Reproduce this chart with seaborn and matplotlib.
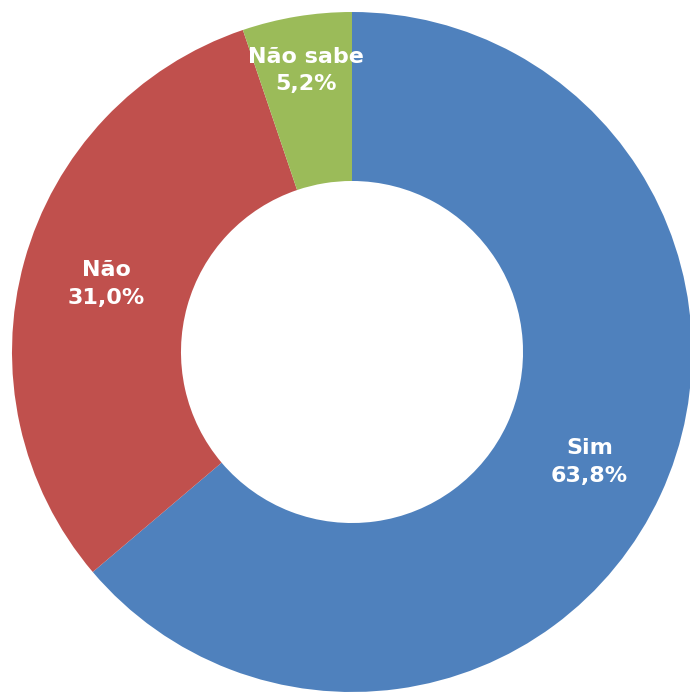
import matplotlib
matplotlib.use("Agg")
import matplotlib.pyplot as plt
import numpy as np
import seaborn as sns

# answer categories and their shares (%)
categories = ["Sim", "Não", "Não sabe"]
shares = [63.8, 31.0, 5.2]
colors = ["#4F81BD", "#C0504D", "#9BBB59"]

# radial position of each label (fraction of outer radius)
label_radius = [0.77, 0.75, 0.84]

sns.set_theme(style="white")
plt.rcParams["font.family"] = ["DejaVu Sans"]

fig = plt.figure(figsize=(6.9, 6.94), dpi=100)
ax = fig.add_axes([0, 0, 1, 1])

wedges, _ = ax.pie(
    shares, colors=colors, startangle=90, counterclock=False,
    radius=1.0, wedgeprops=dict(width=0.497, linewidth=0),
)

for w, name, val, r in zip(wedges, categories, shares, label_radius):
    mid = np.deg2rad((w.theta1 + w.theta2) / 2)
    txt = f"{name}\n{val:.1f}%".replace(".", ",")
    ax.text(r * np.cos(mid), r * np.sin(mid), txt, ha="center", va="center",
            color="white", fontsize=16, fontweight="bold", linespacing=1.45)

# place the pie like the original: centre at (352, 352) px, radius 340 px
ax.set_xlim(-352 / 340, (690 - 352) / 340)
ax.set_ylim(-(694 - 352) / 340, 352 / 340)
ax.set_aspect("equal")
ax.axis("off")

fig.savefig("out.png", dpi=100, facecolor="white")
